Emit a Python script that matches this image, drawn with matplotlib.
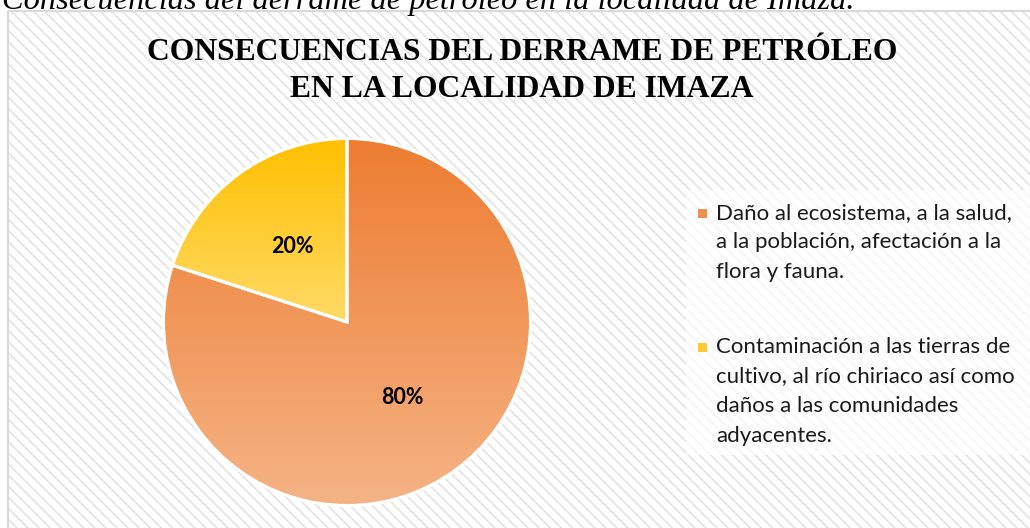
import matplotlib
matplotlib.use('Agg')
import matplotlib.pyplot as plt
import numpy as np
from matplotlib.patches import Rectangle
from matplotlib.colors import LinearSegmentedColormap

W, H = 1030, 528

caption = "Consecuencias del derrame de petróleo en la localidad de Imaza."
titulo = ["CONSECUENCIAS DEL DERRAME DE PETRÓLEO", "EN LA LOCALIDAD DE IMAZA"]
categorias = [
    "Daño al ecosistema, a la salud,\na la población, afectación a la\nflora y fauna.",
    "Contaminación a las tierras de\ncultivo, al río chiriaco así como\ndaños a las comunidades\nadyacentes.",
]
valores = [80, 20]
color_arriba = ['#ED7D31', '#FFC000']
color_abajo = ['#F5B385', '#FFDA66']
color_leyenda = ['#F08E50', '#FFCA2E']

plt.rcParams['hatch.linewidth'] = 1.4

fig = plt.figure(figsize=(W / 100, H / 100), dpi=100)
fig.patch.set_facecolor('white')

# pixel overlay for background, title, legend
bg = fig.add_axes([0, 0, 1, 1])
bg.set_xlim(0, W)
bg.set_ylim(H, 0)
bg.axis('off')
bg.set_zorder(0)

bg.add_patch(Rectangle((8, 11), 1040, 540, facecolor='white', edgecolor='#e6e6e6',
                       hatch='\\\\\\', lw=0))
bg.add_patch(Rectangle((8, 11), 1040, 540, facecolor='none', edgecolor='#d9d9d9', lw=1.5))

bg.text(2, 9, caption, fontsize=23.3, family='Liberation Serif', style='italic',
        ha='left', va='baseline', clip_on=False)

for i, linea in enumerate(titulo):
    bg.text(522, 60 + i * 37, linea, fontsize=22.8, family='Liberation Serif',
            weight='bold', ha='center', va='baseline')

# legend
bg.add_patch(Rectangle((686, 190), 360, 265, facecolor='white', alpha=0.7, lw=0))
y0s = [219, 353]
for cat, col, y0 in zip(categorias, color_leyenda, y0s):
    bg.add_patch(Rectangle((698, y0 - 10), 9, 9, facecolor=col, lw=0))
    for j, linea in enumerate(cat.split('\n')):
        bg.text(716, y0 + j * 29.5, linea, fontsize=16, family='Lato',
                color='#1a1a1a', ha='left', va='baseline')

# pie
cx, cy, r = 347, 322, 183.5
ax = fig.add_axes([(cx - r) / W, 1 - (cy + r) / H, 2 * r / W, 2 * r / H])
ax.set_zorder(1)
wedges, texts, autotexts = ax.pie(
    valores, startangle=90, counterclock=False, autopct='%1.0f%%', pctdistance=0.51,
    wedgeprops=dict(edgecolor='white', linewidth=2.2),
    textprops=dict(fontsize=15.5, family='Lato', weight='bold', color='black'))

grad = np.linspace(0, 1, 256)[:, None]
for w, c0, c1 in zip(wedges, color_arriba, color_abajo):
    ext = w.get_path().get_extents()
    cmap = LinearSegmentedColormap.from_list('g', [c1, c0])
    im = ax.imshow(grad, cmap=cmap, origin='lower', aspect='auto',
                   extent=[ext.x0, ext.x1, ext.y0, ext.y1], zorder=1)
    im.set_clip_path(w)
    w.set_facecolor('none')
    w.set_zorder(2)
for t in autotexts:
    t.set_zorder(3)

ax.set_xlim(-1, 1)
ax.set_ylim(-1, 1)
ax.set_aspect('auto')
ax.axis('off')

fig.savefig('out.png', dpi=100)
